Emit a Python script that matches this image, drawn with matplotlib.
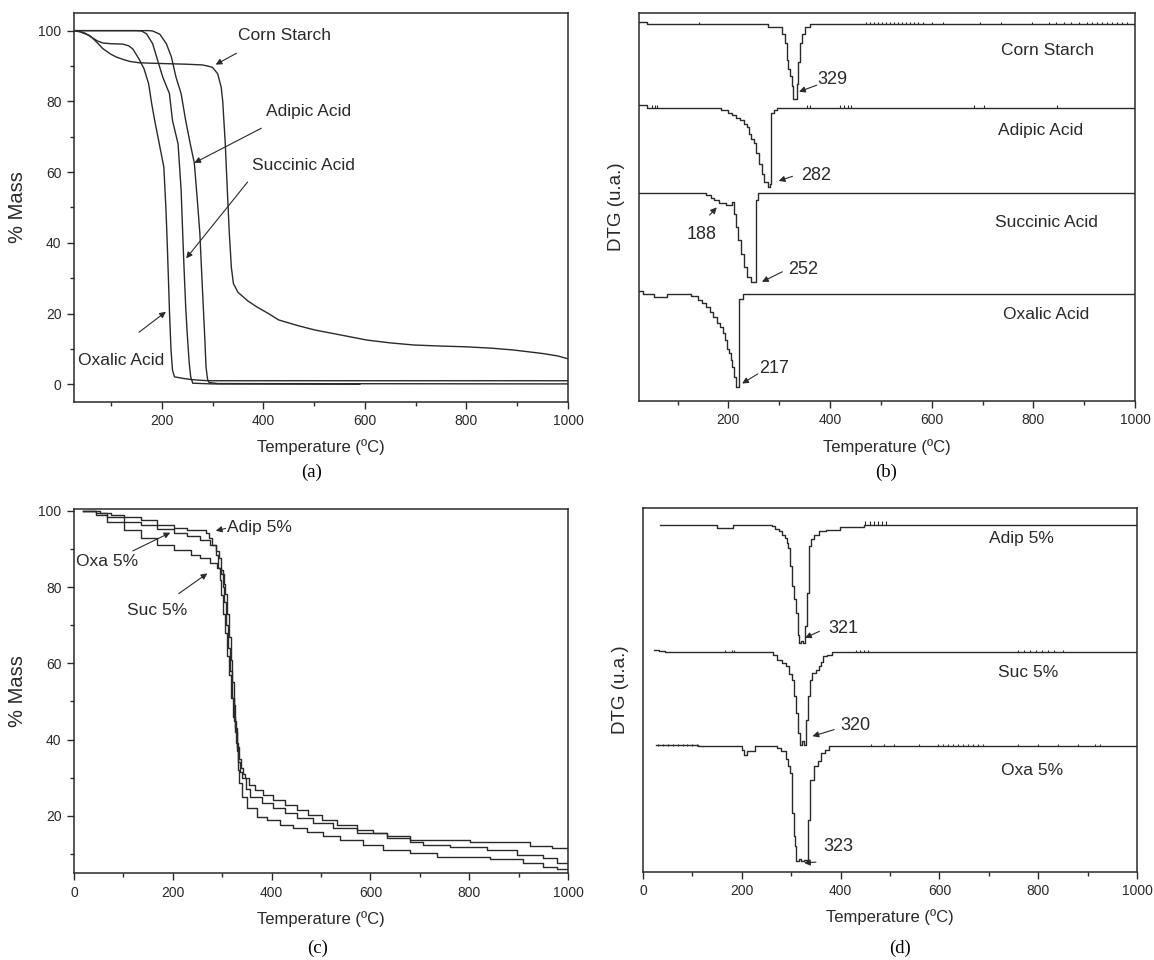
import numpy as np
import matplotlib.pyplot as plt
from matplotlib.ticker import MultipleLocator

plt.rcParams['font.family'] = ['Liberation Sans', 'DejaVu Sans']

# ---- (a) TGA of the pure compounds: temperature (C), mass (%)
starch_t = [27, 40, 58, 70, 84, 100, 111, 125, 137, 156, 200, 250, 280, 290, 300, 310, 317, 320, 325,
            329, 333, 337, 341, 350, 370, 387, 410, 430, 470, 503, 550, 604, 650, 697, 750, 798, 850,
            892, 950, 980, 1000]
starch_m = [100, 99.6, 98.6, 97.0, 94.9, 93.3, 92.5, 91.8, 91.3, 90.9, 90.7, 90.5, 90.3, 90.0, 89.6,
            87.8, 84.0, 80.0, 68.0, 55.0, 42.6, 33.0, 28.5, 26.0, 23.5, 21.9, 20.0, 18.2, 16.5, 15.3,
            14.0, 12.5, 11.7, 11.1, 10.8, 10.6, 10.2, 9.7, 8.7, 8.0, 7.2]

adipic_t = [27, 175, 182, 196, 209, 219, 228, 238, 247, 256, 264, 270, 275, 279, 282, 285, 287, 290,
            293, 310, 1000]
adipic_m = [100, 100, 99.9, 99.0, 96.3, 92.5, 86.8, 82.2, 74.6, 68.0, 62.6, 52.0, 42.6, 30.0, 21.0,
            12.0, 5.0, 1.5, 0.5, 0.2, 0.1]

succinic_t = [27, 150, 160, 170, 182, 192, 202, 215, 221, 232, 238, 243, 247, 250, 254, 257, 261, 300,
              590]
succinic_m = [100, 100, 99.9, 99.1, 96.3, 91.5, 86.8, 82.2, 74.6, 68.0, 55.0, 35.6, 22.0, 14.4, 6.0,
              2.0, 0.3, 0.1, 0.0]

oxalic_t = [27, 39, 50, 62, 73, 84, 100, 123, 135, 143, 155, 165, 174, 180, 186, 195, 204, 208, 210,
            213, 215, 218, 221, 225, 240, 260, 290, 1000]
oxalic_m = [100, 99.8, 99.2, 98.1, 97.1, 96.5, 96.3, 96.2, 95.7, 94.8, 92.0, 89.2, 85.0, 79.4, 74.6,
            68.0, 61.4, 50.0, 42.6, 30.0, 21.0, 10.0, 4.0, 2.1, 1.7, 1.3, 1.0, 1.0]

# ---- (b) DTG of the pure compounds (arbitrary units, stacked)
dtg_starch_t = [24, 39, 277, 306, 311, 315, 318, 322, 326, 328, 335, 337, 340, 344, 350, 361, 1000]
dtg_starch_v = [97.7, 97.1, 96.4, 94.7, 92.2, 88.0, 85.5, 83.8, 81.3, 77.9, 81.7, 87.3, 92.2, 94.7,
                96.4, 97.1, 97.1]
dtg_starch_noise = [142, 470, 478, 486, 494, 502, 510, 518, 526, 534, 542, 550, 558, 566, 574, 582,
                    600, 623, 696, 736, 798, 830, 845, 860, 875, 890, 905, 915, 925, 935, 945, 955,
                    965, 975, 985]

dtg_adipic_t = [24, 39, 185, 200, 207, 215, 222, 230, 236, 240, 245, 251, 255, 261, 266, 271, 277, 282,
                284, 290, 295, 1000]
dtg_adipic_v = [76.2, 75.6, 74.9, 74.2, 73.6, 73.0, 72.4, 71.5, 70.6, 68.9, 67.6, 66.4, 63.8, 61.2,
                58.6, 56.5, 55.2, 55.8, 74.1, 75.0, 75.6, 75.6]
dtg_adipic_noise = [50, 55, 60, 355, 360, 420, 428, 436, 442, 684, 702, 846]

dtg_succinic_t = [24, 156, 165, 171, 182, 196, 207, 211, 215, 219, 224, 230, 237, 244, 254, 259, 1000]
dtg_succinic_v = [53.5, 53.0, 52.3, 51.8, 50.9, 50.5, 51.3, 48.3, 44.9, 41.5, 38.0, 34.6, 32.0, 30.7,
                  51.8, 53.5, 53.5]

dtg_oxalic_t = [24, 32, 54, 79, 127, 140, 149, 156, 163, 170, 178, 183, 189, 193, 198, 202, 205, 207,
                211, 215, 220, 229, 1000]
dtg_oxalic_v = [28.3, 27.7, 26.9, 27.6, 27.0, 26.0, 25.3, 24.3, 23.0, 21.7, 20.0, 19.1, 17.5, 15.7,
                13.5, 12.3, 10.5, 8.8, 6.3, 3.7, 26.4, 27.6, 27.6]

# ---- (c) TGA of the 5 % formulations
adip5_t = [19, 52, 74, 101, 135, 169, 202, 229, 267, 273, 280, 287, 291, 295, 298, 302, 306, 310, 314,
           318, 322, 326, 330, 334, 338, 342, 346, 355, 366, 383, 403, 427, 451, 474, 502, 532, 572,
           606, 633, 680, 802, 923, 967, 1000]
adip5_m = [100, 99.4, 99.0, 98.5, 97.6, 96.3, 95.5, 95.0, 94.2, 92.9, 91.1, 88.5, 85.0, 82.0, 78.0,
           73.0, 68.0, 62.0, 57.0, 51.0, 46.0, 42.0, 38.0, 35.0, 32.5, 31.0, 30.0, 28.0, 26.8, 25.5,
           24.2, 22.9, 21.6, 20.3, 19.0, 17.6, 16.3, 15.5, 14.6, 13.7, 13.2, 12.1, 11.6, 11.6]

oxa5_t = [19, 45, 67, 101, 135, 169, 202, 229, 256, 276, 287, 294, 297, 301, 304, 308, 312, 316, 320,
          324, 328, 332, 336, 340, 348, 356, 380, 403, 427, 451, 484, 525, 572, 633, 680, 706, 761,
          836, 897, 950, 977, 1000]
oxa5_m = [100, 99.5, 98.5, 97.2, 96.3, 95.3, 94.2, 93.3, 92.4, 91.1, 89.4, 87.7, 84.6, 80.0, 76.0,
          70.0, 64.0, 58.0, 51.0, 45.0, 39.0, 34.0, 31.5, 30.0, 27.0, 25.0, 23.4, 22.1, 20.8, 19.5,
          18.2, 16.8, 15.5, 14.2, 13.2, 12.4, 11.9, 11.1, 9.8, 9.0, 7.7, 7.7]

suc5_t = [19, 45, 67, 101, 135, 169, 202, 236, 256, 276, 290, 297, 303, 306, 310, 313, 317, 320, 323,
          326, 329, 332, 335, 340, 350, 370, 390, 417, 444, 471, 504, 538, 586, 626, 680, 735, 842,
          909, 950, 977, 1000]
suc5_m = [100, 99.0, 97.2, 95.0, 92.9, 91.1, 89.8, 88.5, 87.7, 86.4, 85.1, 83.4, 80.8, 78.2, 72.9,
          67.0, 61.0, 55.0, 49.0, 43.0, 37.0, 32.0, 28.5, 25.0, 22.1, 19.8, 19.0, 17.6, 16.8, 15.8,
          14.6, 13.7, 12.4, 11.1, 10.3, 9.3, 8.7, 7.7, 6.7, 6.1, 6.1]

# ---- (d) DTG of the 5 % formulations
dtg_adip5_t = [34, 149, 182, 261, 268, 275, 282, 287, 291, 294, 298, 301, 305, 309, 313, 316, 320,
               324, 328, 331, 337, 341, 346, 357, 370, 387, 398, 447, 1000]
dtg_adip5_v = [95.4, 94.5, 95.4, 95.0, 94.3, 93.6, 92.7, 91.8, 90.5, 89.0, 84.0, 78.5, 75.0, 71.2,
               65.2, 62.9, 63.5, 62.9, 67.5, 76.6, 89.5, 91.5, 92.7, 93.6, 93.9, 94.0, 94.7, 95.4, 95.4]
dtg_adip5_noise = [450, 460, 468, 476, 484, 492]

dtg_suc5_t = [22, 33, 45, 264, 272, 282, 290, 296, 302, 306, 309, 313, 317, 322, 326, 329, 334, 338,
              343, 350, 357, 361, 365, 372, 383, 1000]
dtg_suc5_v = [61.1, 60.6, 60.4, 59.7, 58.3, 57.5, 56.5, 54.5, 52.8, 48.3, 43.7, 38.2, 35.0, 36.0,
              35.0, 41.8, 48.3, 52.8, 54.7, 55.5, 56.5, 57.8, 59.3, 59.7, 60.4, 60.4]
dtg_suc5_noise = [165, 180, 185, 432, 440, 448, 456, 760, 772, 784, 796, 808, 820, 832, 850]

dtg_oxa5_t = [26, 112, 201, 205, 210, 227, 272, 280, 290, 294, 298, 302, 305, 307, 309, 316, 320, 326,
              331, 334, 339, 346, 354, 361, 368, 376, 1000]
dtg_oxa5_v = [34.8, 34.5, 33.6, 32.2, 33.3, 34.5, 34.0, 33.2, 30.9, 29.0, 27.2, 16.2, 10.0, 7.1, 2.9,
              3.5, 2.9, 3.4, 2.6, 14.4, 25.4, 29.0, 30.4, 32.7, 33.6, 34.5, 34.5]
dtg_oxa5_noise = [30, 40, 50, 60, 70, 80, 90, 100, 110, 462, 488, 508, 558, 598, 608, 618, 628, 638,
                  648, 658, 668, 678, 688, 760, 800, 840, 880, 915, 925]

INK = '#2a2a2a'
LW = 1.0
ARROW = dict(arrowstyle='-|>', color=INK, lw=0.8, mutation_scale=9, shrinkA=0, shrinkB=0)
TXT = 12.5

fig = plt.figure(figsize=(11.54, 9.6), dpi=100)
ax_a = fig.add_axes([0.0641, 0.5813, 0.4281, 0.4052])
ax_b = fig.add_axes([0.5537, 0.5823, 0.4298, 0.4042])
ax_c = fig.add_axes([0.0641, 0.0906, 0.4281, 0.3792])
ax_d = fig.add_axes([0.5572, 0.0917, 0.4281, 0.3792])

for ax in (ax_a, ax_b, ax_c, ax_d):
    for s in ax.spines.values():
        s.set_color(INK)
        s.set_linewidth(1.1)
    ax.xaxis.set_major_locator(MultipleLocator(200))
    ax.xaxis.set_minor_locator(MultipleLocator(100))
    ax.tick_params(which='major', direction='out', length=5, width=1, colors=INK,
                   labelsize=10, top=False, right=False, pad=4)
    ax.tick_params(which='minor', direction='out', length=3, width=1, colors=INK,
                   top=False, right=False)
    ax.set_xlabel('Temperature (ºC)', fontsize=12, labelpad=8, color=INK)

# (a)
ax_a.plot(starch_t, starch_m, color=INK, lw=LW)
ax_a.plot(adipic_t, adipic_m, color=INK, lw=LW)
ax_a.plot(succinic_t, succinic_m, color=INK, lw=LW)
ax_a.plot(oxalic_t, oxalic_m, color=INK, lw=LW)
ax_a.set_xlim(27, 1000)
ax_a.set_ylim(-5, 105)
ax_a.yaxis.set_major_locator(MultipleLocator(20))
ax_a.yaxis.set_minor_locator(MultipleLocator(10))
ax_a.set_ylabel('% Mass', fontsize=14.5, labelpad=8, color=INK)
ax_a.text(351, 98.6, 'Corn Starch', fontsize=TXT, va='center', color=INK)
ax_a.annotate('', xy=(306, 90.4), xytext=(347, 93.6), arrowprops=ARROW)
ax_a.text(406, 77, 'Adipic Acid', fontsize=TXT, va='center', color=INK)
ax_a.annotate('', xy=(264, 62.6), xytext=(396, 72.4), arrowprops=ARROW)
ax_a.text(378, 61.9, 'Succinic Acid', fontsize=TXT, va='center', color=INK)
ax_a.annotate('', xy=(248, 35.6), xytext=(369, 57.2), arrowprops=ARROW)
ax_a.text(35, 6.6, 'Oxalic Acid', fontsize=TXT, va='center', color=INK)
ax_a.annotate('', xy=(208, 20.5), xytext=(155, 14.7), arrowprops=ARROW)

# (b)
ax_b.plot(dtg_starch_t, dtg_starch_v, color=INK, lw=LW, drawstyle='steps-post')
ax_b.plot(dtg_adipic_t, dtg_adipic_v, color=INK, lw=LW, drawstyle='steps-post')
ax_b.plot(dtg_succinic_t, dtg_succinic_v, color=INK, lw=LW, drawstyle='steps-post')
ax_b.plot(dtg_oxalic_t, dtg_oxalic_v, color=INK, lw=LW, drawstyle='steps-post')
ax_b.vlines(dtg_starch_noise, 97.1, 97.7, color=INK, lw=0.8)
ax_b.vlines(dtg_adipic_noise, 75.6, 76.2, color=INK, lw=0.8)
ax_b.set_xlim(24, 1000)
ax_b.set_ylim(0, 100)
ax_b.set_yticks([])
ax_b.set_ylabel('DTG (u.a.)', fontsize=13.5, labelpad=10, color=INK)
ax_b.text(737, 90.4, 'Corn Starch', fontsize=TXT, va='center', color=INK)
ax_b.text(375, 82.8, '329', fontsize=13, va='center', color=INK)
ax_b.annotate('', xy=(339, 79.7), xytext=(374, 81.4), arrowprops=ARROW)
ax_b.text(731, 69.8, 'Adipic Acid', fontsize=TXT, va='center', color=INK)
ax_b.text(344, 58.2, '282', fontsize=13, va='center', color=INK)
ax_b.annotate('', xy=(299, 56.7), xytext=(326, 57.9), arrowprops=ARROW)
ax_b.text(724, 45.9, 'Succinic Acid', fontsize=TXT, va='center', color=INK)
ax_b.text(118, 42.9, '188', fontsize=13, va='center', color=INK)
ax_b.annotate('', xy=(177, 49.9), xytext=(163, 47.9), arrowprops=ARROW)
ax_b.text(317, 33.9, '252', fontsize=13, va='center', color=INK)
ax_b.annotate('', xy=(266, 30.7), xytext=(306, 33.3), arrowprops=ARROW)
ax_b.text(740, 22.3, 'Oxalic Acid', fontsize=TXT, va='center', color=INK)
ax_b.text(261, 8.4, '217', fontsize=13, va='center', color=INK)
ax_b.annotate('', xy=(227, 4.5), xytext=(258, 7.0), arrowprops=ARROW)

# (c)
ax_c.plot(adip5_t, adip5_m, color=INK, lw=LW, drawstyle='steps-post')
ax_c.plot(oxa5_t, oxa5_m, color=INK, lw=LW, drawstyle='steps-post')
ax_c.plot(suc5_t, suc5_m, color=INK, lw=LW, drawstyle='steps-post')
ax_c.set_xlim(0, 1000)
ax_c.set_ylim(5, 100.5)
ax_c.yaxis.set_major_locator(MultipleLocator(20))
ax_c.yaxis.set_minor_locator(MultipleLocator(10))
ax_c.set_ylabel('% Mass', fontsize=14.5, labelpad=8, color=INK)
ax_c.text(309, 95.6, 'Adip 5%', fontsize=TXT, va='center', color=INK)
ax_c.annotate('', xy=(287, 94.8), xytext=(307, 95.4), arrowprops=ARROW)
ax_c.text(4, 86.8, 'Oxa 5%', fontsize=TXT, va='center', color=INK)
ax_c.annotate('', xy=(195, 94.3), xytext=(119, 89.5), arrowprops=ARROW)
ax_c.text(108, 74, 'Suc 5%', fontsize=TXT, va='center', color=INK)
ax_c.annotate('', xy=(270, 83.6), xytext=(212, 78.3), arrowprops=ARROW)

# (d)
ax_d.plot(dtg_adip5_t, dtg_adip5_v, color=INK, lw=LW, drawstyle='steps-post')
ax_d.plot(dtg_suc5_t, dtg_suc5_v, color=INK, lw=LW, drawstyle='steps-post')
ax_d.plot(dtg_oxa5_t, dtg_oxa5_v, color=INK, lw=LW, drawstyle='steps-post')
ax_d.vlines(dtg_adip5_noise, 95.4, 96.3, color=INK, lw=0.8)
ax_d.vlines(dtg_suc5_noise, 60.4, 61.0, color=INK, lw=0.8)
ax_d.vlines(dtg_oxa5_noise, 34.5, 35.1, color=INK, lw=0.8)
ax_d.set_xlim(0, 1000)
ax_d.set_ylim(0, 100)
ax_d.set_yticks([])
ax_d.set_ylabel('DTG (u.a.)', fontsize=13.5, labelpad=10, color=INK)
ax_d.text(701, 91.5, 'Adip 5%', fontsize=TXT, va='center', color=INK)
ax_d.text(376, 66.8, '321', fontsize=13, va='center', color=INK)
ax_d.annotate('', xy=(328, 64.3), xytext=(357, 66.1), arrowprops=ARROW)
ax_d.text(718, 54.9, 'Suc 5%', fontsize=TXT, va='center', color=INK)
ax_d.text(400, 40.3, '320', fontsize=13, va='center', color=INK)
ax_d.annotate('', xy=(343, 37.3), xytext=(387, 39.1), arrowprops=ARROW)
ax_d.text(724, 27.9, 'Oxa 5%', fontsize=TXT, va='center', color=INK)
ax_d.text(365, 6.9, '323', fontsize=13, va='center', color=INK)
ax_d.annotate('', xy=(326, 2.5), xytext=(350, 2.7), arrowprops=ARROW)

# panel captions
cap = dict(fontsize=13.5, ha='center', va='center', family=['Liberation Serif', 'DejaVu Serif'])
fig.text(312 / 1154, 1 - 472 / 960, '(a)', **cap)
fig.text(886 / 1154, 1 - 472 / 960, '(b)', **cap)
fig.text(318 / 1154, 1 - 948 / 960, '(c)', **cap)
fig.text(900 / 1154, 1 - 948 / 960, '(d)', **cap)

fig.savefig('out.png', dpi=100)
